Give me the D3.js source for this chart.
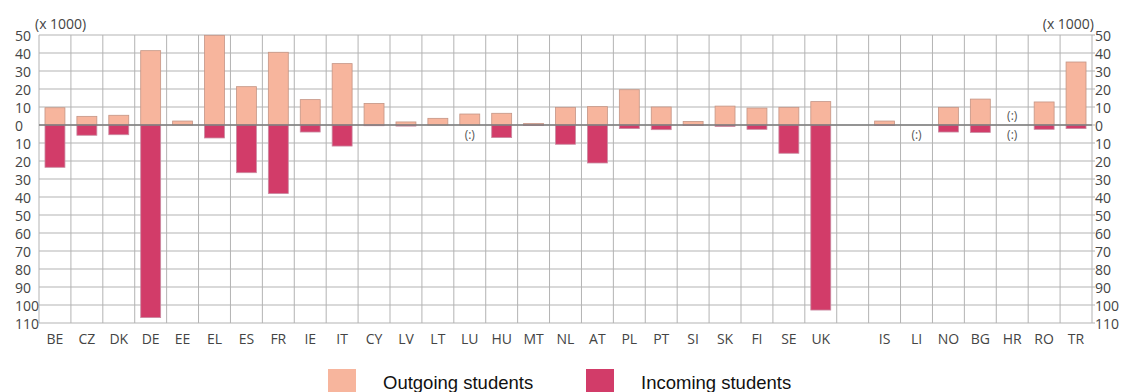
<!DOCTYPE html>
<html>
<head>
<meta charset="utf-8">
<script src="https://cdn.jsdelivr.net/npm/d3@7"></script>
<style>
  html, body { margin: 0; padding: 0; background: #fff; }
  svg { display: block; }
</style>
</head>
<body>
<svg id="chart" width="1121" height="392"></svg>
<script>
// ---- data (thousands of students) ----
const categories = ["BE","CZ","DK","DE","EE","EL","ES","FR","IE","IT","CY","LV","LT","LU","HU","MT","NL","AT","PL","PT","SI","SK","FI","SE","UK","","IS","LI","NO","BG","HR","RO","TR"];
const outgoing = [9.6,4.8,5.4,41.3,2.2,49.8,21.3,40.4,14.1,34.1,12.0,1.7,3.7,6.1,6.5,0.8,9.8,10.2,19.6,10.0,2.0,10.5,9.4,9.8,13.0,null,2.2,0,9.8,14.4,null,12.8,35.0];
const incoming = [23.5,5.7,5.4,107,0,7.2,26.5,38.1,3.9,11.7,0.4,0.6,0,null,7.0,0.3,10.7,21.1,2.0,2.6,0.3,0.8,2.4,15.7,102.8,null,0.2,null,3.9,4.1,null,2.4,2.0];
const gapCategory = "";
const tickValues = [50,40,30,20,10,0,-10,-20,-30,-40,-50,-60,-70,-80,-90,-100,-110];
const unitLabel = "(x 1000)";
const missingLabel = "(:)";
const seriesNames = ["Outgoing students","Incoming students"];
const colors = ["#F7B59D","#D23C69"];

(function () {
const svg = d3.select("#chart");
const pL = 39, pR = 1092, pT = 35, pB = 323;
const font = "'Open Sans', sans-serif";

const x = d3.scaleBand().domain(categories).range([pL, pR]).padding(0);
const y = d3.scaleLinear().domain([-110, 50]).range([pB, pT]);
const barW = x.bandwidth() * 0.625;
const barX = c => x(c) + (x.bandwidth() - barW) / 2;

// grid
const grid = svg.append("g");
grid.selectAll("line.h").data(tickValues).join("line")
  .attr("x1", pL).attr("x2", pR)
  .attr("y1", d => y(d)).attr("y2", d => y(d))
  .attr("stroke", "#b3b3b3").attr("stroke-width", 1);
const vlines = categories.map(c => x(c)).concat([pR]);
grid.selectAll("line.v").data(vlines).join("line")
  .attr("x1", d => d).attr("x2", d => d)
  .attr("y1", pT).attr("y2", pB)
  .attr("stroke", "#b3b3b3").attr("stroke-width", 1);

// bars
const rows = categories.map((c, i) => ({c, out: outgoing[i], inc: incoming[i]}));
const real = rows.filter(r => r.c !== gapCategory);

svg.append("g").selectAll("rect").data(real.filter(r => r.out)).join("rect")
  .attr("x", r => barX(r.c)).attr("width", barW)
  .attr("y", r => y(r.out)).attr("height", r => y(0) - y(r.out))
  .attr("fill", colors[0]).attr("stroke", "#c49585").attr("stroke-width", 0.8);

svg.append("g").selectAll("rect").data(real.filter(r => r.inc)).join("rect")
  .attr("x", r => barX(r.c)).attr("width", barW)
  .attr("y", y(0)).attr("height", r => y(-r.inc) - y(0))
  .attr("fill", colors[1]).attr("stroke", "#c98aa0").attr("stroke-width", 0.8);

// zero line
svg.append("line")
  .attr("x1", pL).attr("x2", pR).attr("y1", y(0)).attr("y2", y(0))
  .attr("stroke", "#7d7d7d").attr("stroke-width", 1.5);

// missing markers
const mk = svg.append("g").attr("font-family", font)
  .attr("font-size", 12).attr("fill", "#555").attr("text-anchor", "middle");
real.filter(r => r.out === null).forEach(r =>
  mk.append("text").attr("x", x(r.c) + x.bandwidth() / 2).attr("y", y(0) - 10)
    .attr("dominant-baseline", "central").text(missingLabel));
real.filter(r => r.inc === null).forEach(r =>
  mk.append("text").attr("x", x(r.c) + x.bandwidth() / 2).attr("y", y(0) + 9)
    .attr("dominant-baseline", "central").text(missingLabel));

// axis labels (absolute values)
const fmt = d => String(Math.abs(d));
const axL = svg.append("g").attr("font-family", font)
  .attr("font-size", 14).attr("fill", "#444");
axL.selectAll("text").data(tickValues).join("text")
  .attr("x", 15).attr("y", d => y(d)).attr("dominant-baseline", "central").text(fmt);
const axR = svg.append("g").attr("font-family", font)
  .attr("font-size", 14).attr("fill", "#444");
axR.selectAll("text").data(tickValues).join("text")
  .attr("x", pR + 3).attr("y", d => y(d)).attr("dominant-baseline", "central").text(fmt);
svg.append("g").selectAll("line").data(tickValues).join("line")
  .attr("x1", pR).attr("x2", pR + 3).attr("y1", d => y(d)).attr("y2", d => y(d))
  .attr("stroke", "#b3b3b3");

svg.append("text").attr("x", 35).attr("y", 23).attr("dominant-baseline", "central")
  .attr("font-family", font).attr("font-size", 14).attr("fill", "#444")
  .text(unitLabel);
svg.append("text").attr("x", 1094).attr("y", 23).attr("dominant-baseline", "central")
  .attr("text-anchor", "end")
  .attr("font-family", font).attr("font-size", 14).attr("fill", "#444")
  .text(unitLabel);

// category labels
svg.append("g").attr("font-family", font).attr("font-size", 14)
  .attr("fill", "#444").attr("text-anchor", "middle")
  .selectAll("text").data(real).join("text")
  .attr("x", r => x(r.c) + x.bandwidth() / 2).attr("y", 338)
  .attr("dominant-baseline", "central").text(r => r.c);

// legend
const legendX = [328, 586];
const lg = svg.append("g");
seriesNames.forEach((name, i) => {
  lg.append("rect").attr("x", legendX[i]).attr("y", 369).attr("width", 28).attr("height", 26)
    .attr("fill", colors[i]);
  lg.append("text").attr("x", legendX[i] + 55).attr("y", 389)
    .attr("font-family", "'Liberation Sans', Arial, sans-serif").attr("font-size", 18.5)
    .attr("fill", "#111").text(name);
});
})();
</script>
</body>
</html>
